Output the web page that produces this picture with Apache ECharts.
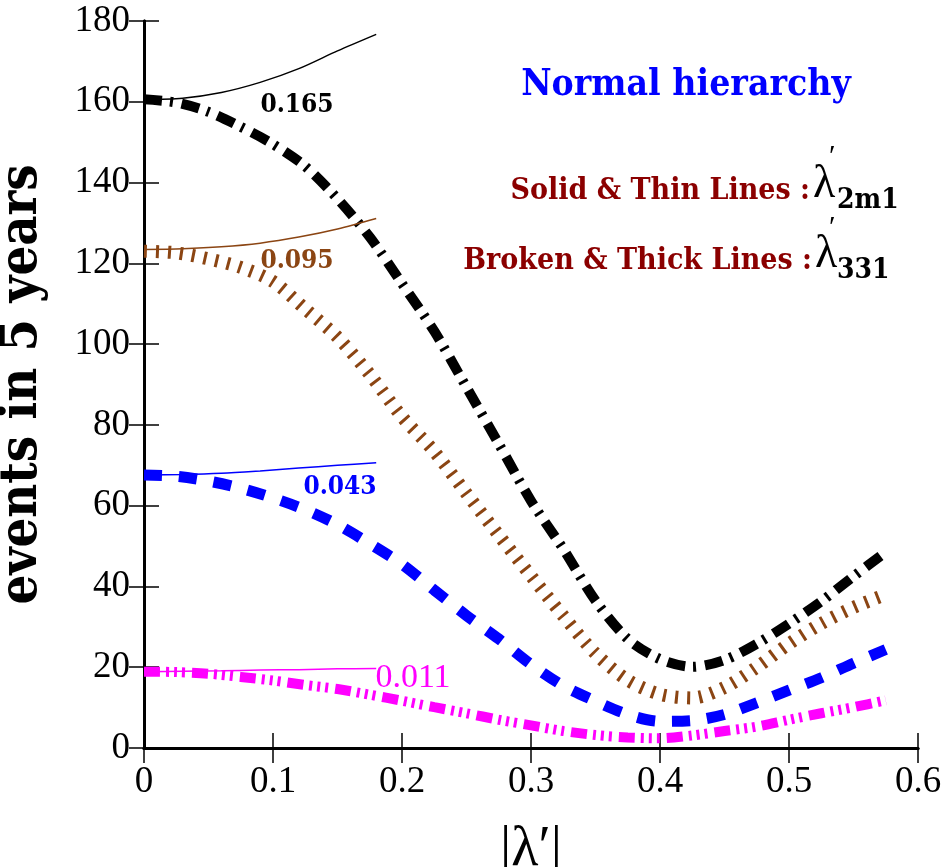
<!DOCTYPE html>
<html lang="en">

<head>
  <meta charset="UTF-8">
  <title>events in 5 years</title>
  <script src="https://cdn.jsdelivr.net/npm/echarts@6/dist/echarts.min.js"></script>
</head>

<body style="margin:0">
  <div id="chart" style="width: 949px; height: 867px;"></div>
  <script>
    // lambda' values for the broken (lambda'_331) curves
    var lamThick = [0, 0.025, 0.05, 0.075, 0.1, 0.125, 0.15, 0.175, 0.2, 0.225, 0.25, 0.275, 0.3,
      0.325, 0.35, 0.375, 0.4, 0.425, 0.45, 0.475, 0.5, 0.525, 0.55, 0.575];
    // lambda' values for the thin (lambda'_2m1) curves
    var lamThin = [0, 0.03, 0.06, 0.09, 0.12, 0.15, 0.18];

    // events, sin^2 theta13 = 0.165 / 0.095 / 0.043 / 0.011
    var thick165 = [160.6, 159.8, 157.5, 153.8, 149.5, 144, 136, 126.5, 115, 103.2, 89.3, 75.3, 61.2,
      49.3, 36.5, 27, 22, 20.1, 21.8, 25.8, 30.8, 36.3, 42.5, 48.5];
    var thick095 = [123, 122.6, 121.1, 119, 115.5, 108.7, 101.7, 92.5, 82, 73.4, 63, 52.7, 42.6,
      32.7, 23.4, 16.8, 13.3, 12.4, 15, 20, 25.8, 30.8, 34.8, 38];
    var thick043 = [67.6, 67.3, 66.1, 64.3, 61.9, 59, 55.3, 50.6, 45.5, 39.1, 32.8, 27, 20.7,
      15.4, 11.6, 8.3, 6.6, 6.8, 8.3, 11.2, 14.3, 17.4, 21, 24.4];
    var thick011 = [18.9, 18.8, 18.4, 17.6, 16.7, 15.6, 14.6, 13.2, 11.7, 10.1, 8.6, 7, 5.6,
      4.2, 3.2, 2.6, 2.4, 3.1, 4.2, 5.3, 7, 8.6, 10.1, 11.8];

    var thin165 = [160.6, 160.9, 162.3, 164.8, 168.2, 172.6, 176.7];
    var thin095 = [123.4, 123.6, 124.1, 125, 126.5, 128.5, 131.1];
    var thin043 = [67.6, 67.7, 68, 68.6, 69.3, 70, 70.6];
    var thin011 = [18.9, 19, 19.1, 19.3, 19.4, 19.6, 19.7];

    var BLACK = '#000000', BROWN = '#8B4513', BLUE = '#0000FF', MAGENTA = '#FF00FF', DARKRED = '#8B0000';
    var times = '"Liberation Serif", "DejaVu Serif", serif';
    var bold = '"DejaVu Serif Condensed", "DejaVu Serif", serif';

    function pairs(xs, ys) {
      return xs.map(function (x, i) { return [x, ys[i]]; });
    }

    function thickLine(name, ys, color, width, dash) {
      return {
        name: name, type: 'line', data: pairs(lamThick, ys), showSymbol: false, smooth: 0.3,
        lineStyle: { color: color, width: width, type: dash, cap: 'butt' }, z: 3
      };
    }

    function thinLine(name, ys, color) {
      return {
        name: name, type: 'line', data: pairs(lamThin, ys), showSymbol: false, smooth: 0.3,
        lineStyle: { color: color, width: 1.5 }, z: 4
      };
    }

    var chart = echarts.init(document.getElementById('chart'));

    var tickStyle = { show: true, inside: true, length: 15, lineStyle: { color: BLACK, width: 1.5 } };
    var frame = { show: true, lineStyle: { color: BLACK, width: 3 } };

    function txt(x, y, text, fill, family, size, weight, align) {
      return {
        type: 'text', x: x, y: y,
        style: { text: text, fill: fill, fontFamily: family, fontSize: size, fontWeight: weight || 'normal', align: align || 'center', verticalAlign: 'middle' }
      };
    }

    var option = {
      animation: false,
      backgroundColor: '#ffffff',
      grid: { left: 144, right: 31, top: 21, bottom: 119, outerBoundsMode: 'none', containLabel: false },
      xAxis: [{
        type: 'value', min: 0, max: 0.6, interval: 0.1, position: 'bottom',
        axisLine: frame, axisTick: tickStyle, splitLine: { show: false },
        axisLabel: { color: BLACK, fontFamily: times, fontSize: 37, margin: 16 },
        name: '|λ′|', nameLocation: 'middle', nameGap: 74,
        nameTextStyle: { color: BLACK, fontFamily: times, fontSize: 56 }
      }, {
        type: 'value', min: 0, max: 0.6, interval: 0.1, position: 'top',
        axisLine: frame, axisTick: tickStyle, axisLabel: { show: false }, splitLine: { show: false }
      }],
      yAxis: [{
        type: 'value', min: 0, max: 180, interval: 20, position: 'left',
        axisLine: frame, axisTick: tickStyle, splitLine: { show: false },
        axisLabel: { color: BLACK, fontFamily: times, fontSize: 37, margin: 14 },
        name: 'events in 5 years', nameLocation: 'middle', nameGap: 96, nameRotate: 90,
        nameTextStyle: { color: BLACK, fontFamily: bold, fontWeight: 'bold', fontSize: 52 }
      }, {
        type: 'value', min: 0, max: 180, interval: 20, position: 'right',
        axisLine: frame, axisTick: tickStyle, axisLabel: { show: false }, splitLine: { show: false }
      }],
      series: [
        thickLine('0.165 thick', thick165, BLACK, 10, [18, 8, 3, 9]),
        thickLine('0.095 thick', thick095, BROWN, 13, [3, 9]),
        thickLine('0.043 thick', thick043, BLUE, 11, [18, 17]),
        thickLine('0.011 thick', thick011, MAGENTA, 10, [16, 6, 3, 5, 3, 5, 3, 7]),
        thinLine('0.165 thin', thin165, BLACK),
        thinLine('0.095 thin', thin095, BROWN),
        thinLine('0.043 thin', thin043, BLUE),
        thinLine('0.011 thin', thin011, MAGENTA)
      ],
      graphic: [
        txt(686, 85, 'Normal hierarchy', BLUE, bold, 37, 'bold'),
        txt(810, 191, 'Solid & Thin Lines :', DARKRED, bold, 30, 'bold', 'right'),
        txt(813, 185, 'λ', BLACK, times, 46, 'normal', 'left'),
        txt(829, 157, '′', BLACK, times, 30, 'normal', 'left'),
        txt(837, 201, '2m1', BLACK, bold, 28, 'bold', 'left'),
        txt(812, 261, 'Broken & Thick Lines :', DARKRED, bold, 30, 'bold', 'right'),
        txt(815, 255, 'λ', BLACK, times, 46, 'normal', 'left'),
        txt(829, 228, '′', BLACK, times, 30, 'normal', 'left'),
        txt(837, 271, '331', BLACK, bold, 28, 'bold', 'left'),
        txt(297, 105, '0.165', BLACK, bold, 26, 'bold'),
        txt(297, 261, '0.095', BROWN, bold, 26, 'bold'),
        txt(340, 487, '0.043', BLUE, bold, 26, 'bold'),
        txt(413, 678, '0.011', MAGENTA, times, 34)
      ]
    };

    chart.setOption(option);
  </script>
</body>

</html>
